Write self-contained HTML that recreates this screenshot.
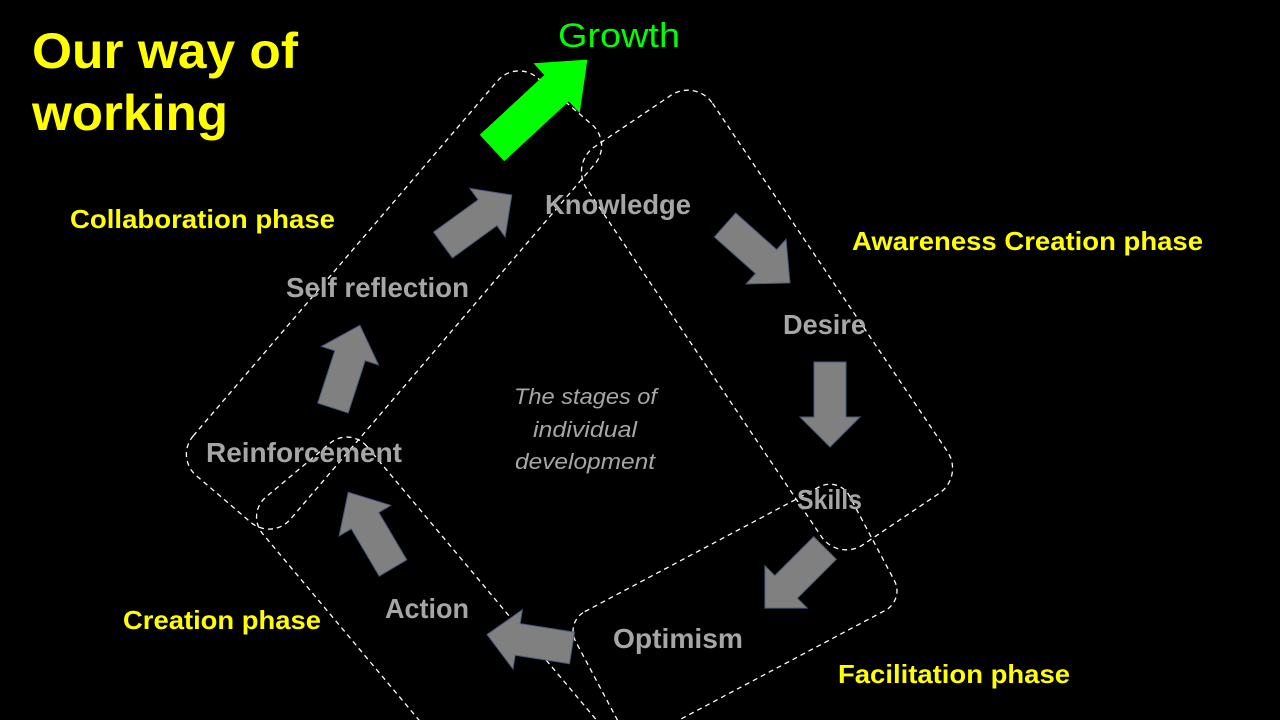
<!DOCTYPE html>
<html><head><meta charset="utf-8"><style>
html,body{margin:0;padding:0;background:#000;width:1280px;height:720px;overflow:hidden}
svg{display:block;overflow:hidden}
text{font-family:"Liberation Sans",sans-serif}
.y{fill:#ffff00;font-weight:bold}
.g{fill:#a6a6a6;font-weight:bold}
</style></head><body>
<svg width="1280" height="720" viewBox="0 0 1280 720">
<defs><clipPath id="c"><rect width="1280" height="720"/></clipPath></defs>
<rect width="1280" height="720" fill="#000"/>
<g clip-path="url(#c)">
<g fill="none" stroke="#fff" stroke-width="1.3" stroke-dasharray="5,4">
<rect x="-262" y="-64" width="524" height="128" rx="28" transform="translate(394,300) rotate(-49.4)"/>
<rect x="-240" y="-76" width="480" height="152" rx="30" transform="translate(767,320) rotate(56)"/>
<rect x="-155" y="-70" width="310" height="140" rx="22" transform="translate(735,611) rotate(-28)"/>
<rect x="-210" y="-68" width="420" height="136" rx="26" transform="translate(433,631) rotate(50)"/>
</g>
<polygon fill="#00ff00" points="0,-18 88,-18 88,-34 130,0 88,34 88,18 0,18" transform="translate(492,148) rotate(-42.8)"/>
<g fill="#808080" stroke="#4a5a7a" stroke-width="1">
<polygon points="0,-16 55,-16 55,-30 85,0 55,30 55,16 0,16" transform="translate(443,245) rotate(-36)"/>
<polygon points="0,-16 55,-16 55,-30 87,0 55,30 55,16 0,16" transform="translate(725,225) rotate(41.7)"/>
<polygon points="0,-16 55,-16 55,-30 85,0 55,30 55,16 0,16" transform="translate(830,362) rotate(90)"/>
<polygon points="0,-16 55,-16 55,-30 85,0 55,30 55,16 0,16" transform="translate(825,548) rotate(135)"/>
<polygon points="0,-16 55,-16 55,-30 86,0 55,30 55,16 0,16" transform="translate(572,648) rotate(189)"/>
<polygon points="0,-16 55,-16 55,-30 88,0 55,30 55,16 0,16" transform="translate(393,568) rotate(-120.6)"/>
<polygon points="0,-16 55,-16 55,-30 87,0 55,30 55,16 0,16" transform="translate(333,408) rotate(-72)"/>
</g>
</g>
<text class="y" x="32" y="68" font-size="50" textLength="266" lengthAdjust="spacingAndGlyphs">Our way of</text>
<text class="y" x="32" y="130" font-size="50" textLength="196" lengthAdjust="spacingAndGlyphs">working</text>
<text x="558" y="47" font-size="34" fill="#00ff00" textLength="122" lengthAdjust="spacingAndGlyphs">Growth</text>
<text class="y" x="70" y="228" font-size="26" textLength="265" lengthAdjust="spacingAndGlyphs">Collaboration phase</text>
<text class="y" x="852" y="250" font-size="26" textLength="351" lengthAdjust="spacingAndGlyphs">Awareness Creation phase</text>
<text class="y" x="123" y="629" font-size="26" textLength="198" lengthAdjust="spacingAndGlyphs">Creation phase</text>
<text class="y" x="838" y="683" font-size="26" textLength="232" lengthAdjust="spacingAndGlyphs">Facilitation phase</text>
<text class="g" x="545" y="214" font-size="28" textLength="146" lengthAdjust="spacingAndGlyphs">Knowledge</text>
<text class="g" x="286" y="297" font-size="28" textLength="183" lengthAdjust="spacingAndGlyphs">Self reflection</text>
<text class="g" x="783" y="334" font-size="28" textLength="83" lengthAdjust="spacingAndGlyphs">Desire</text>
<text class="g" x="206" y="462" font-size="28" textLength="196" lengthAdjust="spacingAndGlyphs">Reinforcement</text>
<text class="g" x="797" y="509" font-size="28" textLength="65" lengthAdjust="spacingAndGlyphs">Skills</text>
<text class="g" x="385" y="618" font-size="28" textLength="84" lengthAdjust="spacingAndGlyphs">Action</text>
<text class="g" x="613" y="648" font-size="28" textLength="130" lengthAdjust="spacingAndGlyphs">Optimism</text>
<g fill="#a6a6a6" font-style="italic" font-size="22">
<text x="514" y="404" textLength="143" lengthAdjust="spacingAndGlyphs">The stages of</text>
<text x="533" y="437" textLength="104" lengthAdjust="spacingAndGlyphs">individual</text>
<text x="515" y="469" textLength="140" lengthAdjust="spacingAndGlyphs">development</text>
</g>
</svg>
</body></html>
